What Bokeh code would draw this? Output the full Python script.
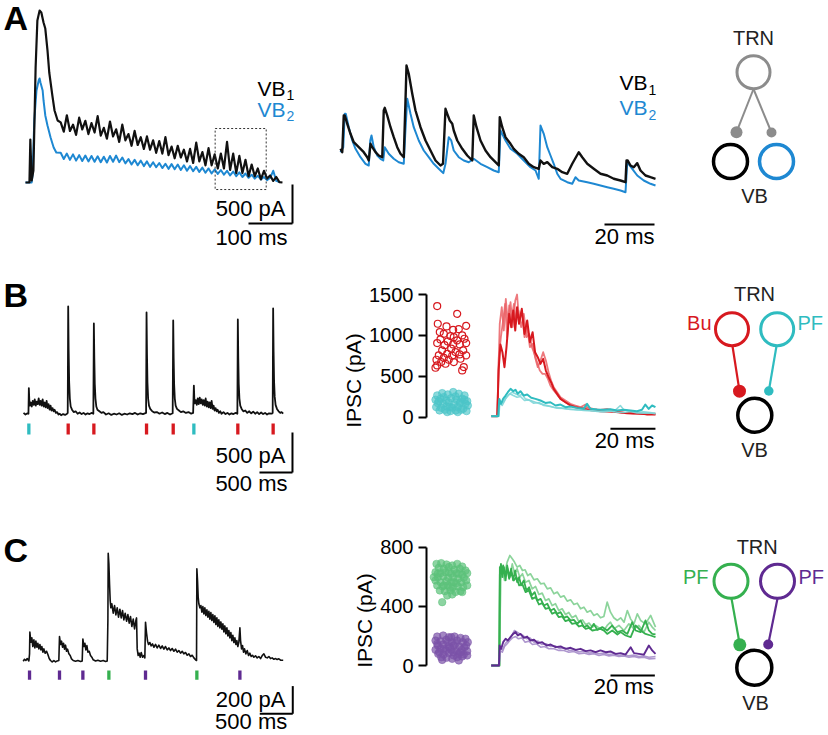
from bokeh.plotting import figure
from bokeh.layouts import column, row
from bokeh.models import Range1d, FixedTicker, Title
from bokeh.core.properties import value
from bokeh.embed import file_html
from bokeh.resources import INLINE

FONT = "Liberation Sans"

# ---------------- DATA ----------------
# Panel A left: full IPSC train (ms, pA)
a1_black = [(0,0),(9,0),(11,550),(14,26),(18,154),(23,1472),(27,2074),(32,2200),(36,2176),(41,2048),(45,1971),(50,1690),(54,1408),(61,1114),(66,922),(73,794),
 (80,770),(87,650),(94,860),(101,660),(108,740),(115,610),(122,830),(129,680),(136,790),(143,620),(150,760),(157,640),(164,850),(171,600),(178,700),(185,560),
 (192,780),(199,590),(206,680),(213,520),(220,740),(227,540),(234,620),(241,470),(248,660),(255,480),(262,580),(269,430),(276,590),(283,420),(290,540),(297,380),
 (304,530),(311,370),(318,580),(325,350),(332,460),(339,310),(346,470),(353,320),(360,420),(367,270),(374,430),(381,250),(388,510),(395,270),(402,390),(409,220),
 (416,440),(423,220),(430,360),(437,180),(444,370),(451,180),(458,520),(465,160),(472,370),(479,120),(486,340),(493,120),(500,290),(507,80),(514,230),(521,80),
 (528,180),(535,40),(542,150),(549,50),(556,90),(563,20),(570,70),(577,5),(584,0)]
a1_blue = [(0,0),(14,0),(16,90),(20,794),(25,1178),(30,1306),(32,1331),(34,1280),(39,1178),(41,1050),(45,858),(50,730),(57,576),(64,448),(70,384),
 (80,380),(87,300),(94,370),(101,290),(108,360),(115,280),(122,350),(129,275),(136,345),(143,270),(150,340),(157,265),(164,335),(171,260),(178,330),(185,255),
 (192,340),(199,265),(206,345),(213,260),(220,320),(227,245),(234,300),(241,230),(248,290),(255,220),(262,280),(269,210),(276,270),(283,200),(290,260),(297,195),
 (304,250),(311,185),(318,240),(325,175),(332,235),(339,170),(346,230),(353,160),(360,220),(367,150),(374,210),(381,145),(388,200),(395,135),(402,190),(409,125),
 (416,180),(423,115),(430,170),(437,110),(444,160),(451,100),(458,150),(465,90),(472,140),(479,80),(486,130),(493,70),(500,115),(507,60),(514,100),(521,50),
 (528,85),(535,40),(542,70),(549,30),(556,60),(563,150),(570,20),(577,5)]

# Panel A right: expanded segment (ms, pA)
a2_black_t = [0,0.7,1.3,1.7,2.7,4,5.3,7.3,9.3,10.7,11.3,12,12.7,14,15.3,16.7,17.3,17.7,18.7,20,21.3,22.7,24,25.3,26,26.4,27.3,28.7,30,32,
 34,36,38,40,41,42,42.7,43.7,44.7,45.3,46.7,48.7,50.7,52.7,53.3,54.4,56,58,60,62,63.3,63.7,64.7,66,68,69.3,71.3,73.3,75.3,77.3,
 79.3,80,81.3,82.7,84.7,86.7,88.7,90.7,92.7,95.3,96.7,98.7,101.3,104,106.7,109.3,112,114,114.4,114.9,116,117.3,118.7,120,122,124,126]
a2_black_i = [299,277,512,512,459,395,341,309,277,245,224,331,309,277,256,245,544,561,512,437,373,309,267,245,608,832,779,651,544,437,
 352,288,224,192,203,555,523,480,459,416,352,299,256,224,512,437,352,288,245,213,192,501,437,373,331,299,267,245,203,181,
 171,224,203,213,181,171,149,139,203,277,245,203,171,139,128,107,96,85,224,224,192,181,207,160,128,117,107]
a2_blue_t = [0,1.1,1.7,2.1,3.3,4.7,6,8,10,11.3,11.9,12.4,13.3,14.7,16,17.1,17.7,19.3,21.3,23.3,25.3,25.9,26.7,28,29.3,31.3,33.3,35.3,37.3,39.3,
 41.1,42,43.3,44.3,45.3,47.3,49.3,51.3,53.3,56,58.7,61.3,63.3,64,66,68,70.7,73.3,76,78,79.3,80,81.3,82.7,84,85.3,86.7,88,90.7,92.7,
 94,95.3,98.7,101.3,104,106.7,109.3,112,114,114.7,116.7,118.7,121.3,124,126]
a2_blue_i = [277,309,523,523,437,352,299,245,203,192,352,384,309,256,235,224,309,267,235,213,203,395,619,523,437,352,288,245,203,171,
 143,203,373,352,288,245,224,213,235,203,181,160,149,416,352,299,267,224,181,160,107,448,395,309,256,203,139,107,85,75,
 117,96,85,75,64,53,43,32,21,213,171,128,96,75,64]

# Panel B left: train with Bu / PF stimulation (ms, pA)
b1_trace = [(0,20),(30,0),(60,15),(75,10),(81,330),(88,180),(95,110),(110,150),(125,100),(140,170),(155,120),(170,190),(185,110),(200,160),(215,130),
 (230,200),(245,120),(260,170),(275,110),(290,190),(305,100),(320,150),(335,90),(350,170),(365,80),(380,130),(395,60),(410,110),(425,50),(440,80),
 (455,40),(470,60),(490,20),(510,30),(530,0),(550,10),(570,-10),(600,5),(630,-5),(660,10),(670,20),(677,1350),(684,800),(692,400),(702,200),
 (715,100),(735,60),(760,30),(790,40),(820,10),(850,25),(880,5),(910,20),(940,0),(970,15),(1000,5),(1030,20),(1058,10),(1066,1138),(1073,700),
 (1080,380),(1090,200),(1103,100),(1120,60),(1150,40),(1180,20),(1210,30),(1250,0),(1290,15),(1330,-5),(1370,10),(1410,0),(1450,15),(1490,-5),
 (1530,10),(1570,0),(1610,15),(1650,5),(1690,20),(1730,0),(1770,15),(1810,5),(1857,20),(1864,1275),(1871,750),(1878,400),(1888,200),(1901,110),
 (1920,70),(1950,40),(1980,25),(2020,30),(2060,10),(2100,25),(2140,5),(2180,20),(2220,0),(2260,15),(2268,1175),(2275,700),(2282,380),(2292,200),
 (2305,110),(2325,70),(2355,50),(2385,30),(2420,40),(2460,20),(2500,30),(2540,10),(2570,20),(2581,362),(2588,200),(2596,140),(2610,180),(2625,120),
 (2640,200),(2655,130),(2670,210),(2685,140),(2700,190),(2715,120),(2730,180),(2745,110),(2760,200),(2775,100),(2790,160),(2805,90),(2820,150),
 (2835,80),(2850,170),(2865,70),(2880,110),(2895,50),(2910,80),(2925,40),(2940,60),(2960,20),(2980,40),(3000,10),(3030,30),(3060,5),(3090,20),
 (3120,0),(3150,15),(3180,5),(3210,20),(3240,10),(3247,1188),(3254,700),(3261,380),(3271,200),(3284,110),(3305,70),(3330,40),(3360,50),(3390,20),
 (3420,40),(3450,15),(3480,35),(3510,10),(3540,30),(3570,5),(3600,25),(3630,5),(3660,20),(3690,0),(3720,15),(3760,10),(3775,20),(3782,1325),
 (3789,780),(3796,420),(3806,220),(3819,120),(3840,70),(3865,40),(3890,20),(3910,30),(3934,10)]
b1_stim_t = [81, 677, 1066, 1864, 2268, 2581, 3247, 3782]
b1_stim_kind = ["PF", "Bu", "Bu", "Bu", "Bu", "PF", "Bu", "Bu"]

# Panel B scatter: IPSC amplitudes (jitter, pA)
bu_amp_x = [10.7,30.7,11.3,20,39.7,26.7,32.3,13.3,17.3,24,35.7,27.3,14,30.7,21.3,38,10.7,18,26.7,33.3,39.7,24.7,15.7,36.7,29,20.7,33,12.3,25.7,39.7,17.3,10,22.3,34,14.7,27.3,10.7,19,37.3,35.7,9]
bu_amp = [1360,1266,1144,1111,1119,1070,1078,1042,1021,993,1001,980,952,940,927,960,907,882,891,891,907,838,817,817,797,776,768,756,752,756,727,703,703,715,674,674,633,654,613,572,605]
pf_amp_x = [10.7,15.7,21.3,26.7,32.3,38,9,14,19.7,24.7,30,35.7,40.7,11.3,16.7,22.3,27.3,33.3,39,9.7,14.7,20,25.7,31.3,36.7,41.3,13,18.3,24,29.3,34.7,40,17.3,29,34,12.3,23.3,38,20.7,31.3]
pf_amp = [266,294,278,307,286,266,213,225,205,233,213,225,196,172,164,180,156,172,164,123,115,131,115,123,103,143,82,90,74,82,90,74,245,254,184,196,123,213,62,62]

# Panel B right: overlaid IPSCs (ms, pA)
bu_tr1 = [(0,0),(2.7,0),(3.3,559),(4.1,878),(5.0,784),(5.9,600),(6.8,845),(8.0,1253),(8.9,1090),(9.8,1294),(10.7,1049),(11.5,1335),(12.4,1131),(13.6,1315),(14.8,1008),(16.0,1172),(17.2,906),(18.4,1029),(19.5,784),(20.7,723),(21.9,641),(23.1,702),(24.3,559),(25.5,478),(26.6,416),(27.8,335),(29.3,274),(30.8,212),(33.0,171),(35.2,131),(37.4,110),(39.7,98),(42.6,78),(45.6,69),(48.5,61),(51.5,57),(54.5,53),(57.4,45),(60.4,37),(63.3,37),(66.3,29),(69.3,24),(73.0,29)]
bu_tr2 = [(0,0),(2.7,0),(3.1,437),(3.8,1131),(4.7,1335),(5.6,1049),(6.5,1437),(7.4,1131),(8.6,1396),(9.5,1090),(10.7,1417),(11.5,1490),(12.4,1172),(13.6,1294),(14.8,968),(16.0,1090),(17.2,845),(18.4,886),(19.5,723),(20.7,600),(21.9,682),(23.1,784),(24.3,682),(25.5,539),(26.6,437),(27.8,355),(29.3,294),(30.8,233),(33.0,192),(35.2,151),(37.4,131),(39.7,110),(41.9,143),(42.6,110),(45.6,86),(48.5,78),(51.5,90),(54.5,69),(57.4,49),(60.4,37),(63.3,29),(66.3,37),(69.3,20),(73.0,20)]
bu_tr3 = [(0,0),(2.8,0),(3.4,723),(4.3,968),(5.3,1172),(6.2,1376),(7.1,968),(8.0,1356),(8.9,1172),(10.1,1376),(11.0,1131),(12.1,1294),(13.3,1090),(14.5,1253),(15.7,968),(16.9,1008),(18.1,845),(19.2,764),(20.4,661),(21.6,559),(22.8,519),(24.0,519),(25.2,457),(26.3,376),(27.8,314),(29.6,253),(31.4,200),(33.7,159),(36.1,131),(38.5,110),(41.1,102),(44.1,90),(47.1,78),(50.0,69),(53.0,61),(55.9,53),(58.9,41),(61.9,37),(64.8,33),(67.8,29),(70.7,20),(73.0,16)]
pf_tr1 = [(0,0),(3.1,0),(3.6,212),(4.4,151),(5.3,212),(6.4,253),(7.4,294),(8.6,335),(9.8,306),(10.8,323),(11.8,274),(13.0,306),(14.5,253),(16.0,265),(17.8,225),(19.7,212),(21.9,192),(24.1,163),(26.3,171),(28.6,131),(30.8,143),(33.0,110),(35.2,118),(38.2,102),(41.1,90),(42.6,151),(44.1,90),(47.1,82),(50.0,78),(53.0,86),(55.9,69),(58.9,78),(61.9,69),(64.8,61),(67.0,78),(68.5,143),(70.0,90),(71.5,131),(73.0,110)]
pf_tr2 = [(0,0),(3.3,0),(3.7,171),(4.9,131),(6.4,212),(7.8,265),(9.3,294),(10.8,274),(12.3,253),(13.8,265),(15.2,212),(17.5,192),(19.7,171),(21.9,151),(24.9,131),(27.8,110),(30.8,102),(33.7,90),(36.7,86),(39.7,78),(42.6,69),(45.6,65),(48.5,61),(51.5,69),(54.5,57),(57.4,131),(58.9,78),(61.9,61),(64.8,49),(67.8,53),(70.7,45),(73.0,37)]
pf_tr3 = [(0,0),(3.4,0),(3.8,151),(5.3,171),(6.8,233),(8.3,274),(9.8,253),(11.5,233),(13.0,241),(14.8,192),(16.7,200),(18.9,159),(21.2,168),(23.4,131),(26.3,118),(29.3,98),(32.3,94),(35.2,82),(38.2,78),(41.1,69),(44.1,69),(47.1,57),(50.0,53),(53.0,65),(55.9,49),(58.9,45),(61.9,57),(64.8,41),(67.8,37),(70.7,41),(73.0,29)]

# Panel C left (ms, pA)
c1_trace = [(0,0),(20,14),(40,5),(61,19),(86,2),(96,53),(101,210),(116,137),(131,169),(146,106),(162,154),(177,96),(192,145),(207,101),(222,130),(237,89),
 (253,121),(268,82),(283,106),(298,65),(313,89),(333,58),(354,72),(374,48),(394,19),(414,5),(439,-5),(465,5),(490,-5),(515,2),(540,5),(550,178),(566,121),
 (581,145),(596,101),(611,130),(626,87),(641,116),(657,72),(672,87),(692,53),(712,41),(732,17),(758,5),(793,0),(828,5),(869,-2),(894,2),(904,161),(919,106),
 (934,130),(949,82),(965,113),(980,65),(1000,72),(1020,41),(1040,29),(1061,10),(1096,2),(1131,7),(1172,0),(1212,5),(1247,-2),(1273,2),(1283,294),(1288,781),
 (1298,704),(1308,559),(1318,439),(1328,386),(1343,415),(1364,347),(1384,402),(1404,335),(1424,386),(1444,318),(1465,376),(1485,313),(1505,366),(1525,299),
 (1545,347),(1566,289),(1586,337),(1606,275),(1626,323),(1646,251),(1667,304),(1687,234),(1707,294),(1717,313),(1727,89),(1742,41),(1757,58),(1773,29),
 (1788,63),(1808,29),(1828,41),(1843,24),(1853,282),(1869,202),(1884,145),(1899,121),(1919,135),(1939,111),(1959,125),(1980,101),(2005,121),(2030,96),
 (2055,116),(2081,92),(2106,111),(2131,87),(2156,106),(2182,82),(2207,96),(2232,77),(2257,92),(2283,72),(2308,87),(2333,65),(2358,77),(2384,58),(2409,72),
 (2434,53),(2459,63),(2485,43),(2510,53),(2535,34),(2560,43),(2586,24),(2611,10),(2626,5),(2631,668),(2641,583),(2651,463),(2661,415),(2677,386),(2692,402),
 (2707,354),(2722,395),(2737,342),(2752,386),(2767,330),(2783,371),(2798,318),(2813,361),(2828,304),(2843,352),(2858,294),(2873,337),(2889,280),(2904,328),
 (2919,265),(2934,313),(2949,251),(2964,299),(2980,241),(2995,284),(3010,231),(3025,270),(3040,212),(3055,255),(3070,198),(3086,241),(3101,183),(3116,222),
 (3131,169),(3146,207),(3161,149),(3176,188),(3192,135),(3207,169),(3222,121),(3237,149),(3252,106),(3267,137),(3283,241),(3293,149),(3308,89),(3323,113),
 (3338,65),(3353,89),(3373,53),(3394,77),(3414,41),(3434,58),(3454,34),(3474,43),(3495,29),(3520,39),(3545,24),(3570,34),(3596,19),(3621,41),(3646,53),
 (3671,29),(3697,24),(3722,34),(3747,19),(3772,24),(3798,14),(3823,19),(3848,12),(3873,17),(3899,7),(3939,7)]
c1_stim_t = [96, 550, 904, 1298, 1853, 2631, 3283]
c1_stim_kind = ["PF2", "PF2", "PF2", "PF1", "PF2", "PF1", "PF2"]

# Panel C scatter (jitter, pA)
g_amp_x = [10,14.7,20,25.7,30.7,35.7,12.3,17.3,22.3,28,33.3,39,9,14,19,24.7,30,35.7,40.7,11.3,16.7,21.7,26.7,31.7,37.3,9,14,19.7,24.7,29.7,34.7,39.7,10.7,16,21.3,26.3,31.3,36.7,13.3,18.3,24,29,34,20.7,25.7,15.7,7.3,40.7,11.3,27.3,32.3,22.3,17.3,35.7,23.3]
g_amp = [688,693,684,677,688,670,661,655,666,648,655,643,632,625,632,621,625,616,625,598,603,594,598,587,594,576,564,571,564,557,564,576,542,535,542,530,535,530,508,503,508,497,503,474,481,429,598,542,621,564,621,632,542,497,530]
p_amp_x = [10.7,16.7,22.3,28,34,39,9,14,19.7,25.3,30.7,36.3,41.3,11.3,16.7,22,27.3,32.7,38,9,14,19.3,24.7,30,35.3,40.7,11.7,17,22.3,27.3,32.3,37.3,14.7,20,25.7,30.7,35.7,17.3,29,34,23.3,12.7,39.7,26.7,21.3,10.7,15.7,32.3,40.7,24.7]
p_amp = [196,203,192,196,187,181,169,165,174,158,169,158,158,135,142,129,135,129,124,106,113,102,106,97,106,97,79,74,84,68,79,74,56,52,45,56,61,113,147,90,120,90,135,90,158,147,38,34,68,192]

# Panel C right (ms, pA)
g_tr1 = [(0,0),(3.6,0),(3.9,621),(4.4,688),(5.0,598),(5.7,666),(6.5,576),(7.2,677),(8.1,598),(9.0,655),(9.9,576),(10.8,643),(11.7,564),(12.6,598),(13.5,542),(14.7,576),(15.9,508),(17.1,530),(18.3,474),(19.6,497),(20.8,440),(22.3,451),(23.8,406),(25.3,418),(26.8,372),(28.3,384),(29.8,350),(31.3,361),(32.8,323),(34.3,332),(35.8,305),(37.3,309),(38.8,282),(40.3,305),(41.8,260),(43.3,271),(44.8,248),(46.3,282),(47.8,241),(50.1,260),(52.3,237),(54.6,271),(56.9,226),(59.1,237),(61.4,214),(63.6,293),(65.1,237),(67.4,226),(69.6,305),(71.1,237),(72.6,214),(74.1,210)]
g_tr2 = [(0,0),(3.8,0),(4.2,576),(5.0,666),(6.0,621),(7.2,700),(8.4,745),(9.5,722),(10.5,700),(11.7,666),(12.9,677),(14.1,643),(15.3,648),(16.5,609),(17.7,621),(19.3,580),(20.8,587),(22.3,553),(23.8,557),(25.3,519),(26.8,526),(28.3,485),(29.8,497),(31.3,463),(32.8,472),(34.3,436),(35.8,445),(37.3,413),(38.8,422),(40.3,384),(41.8,395),(43.3,361),(44.8,372),(46.3,339),(47.8,350),(49.3,323),(50.8,332),(52.3,429),(53.8,361),(55.3,323),(56.9,305),(58.4,323),(59.9,293),(61.4,372),(62.9,314),(64.4,282),(65.9,350),(67.4,305),(69.6,282),(71.9,339),(74.1,260)]
g_tr3 = [(0,0),(3.8,0),(4.2,598),(5.1,643),(6.0,576),(7.2,666),(8.4,598),(9.5,688),(10.5,621),(11.7,655),(12.9,598),(14.1,621),(15.5,564),(17.0,576),(18.5,519),(20.0,535),(21.5,481),(23.0,490),(24.5,440),(26.0,451),(27.5,406),(29.0,418),(30.5,372),(32.0,384),(33.5,345),(35.0,359),(36.5,323),(38.1,339),(39.6,293),(41.1,309),(42.6,278),(44.1,287),(45.6,260),(47.1,271),(48.6,255),(50.8,237),(52.3,271),(53.8,293),(55.3,248),(57.6,271),(59.9,237),(62.1,282),(64.4,248),(66.6,271),(68.9,226),(71.1,293),(72.6,260),(74.1,237)]
g_tr4 = [(0,0),(3.6,0),(3.9,666),(4.7,621),(5.4,677),(6.3,609),(7.2,661),(8.1,587),(9.0,632),(10.2,576),(11.4,598),(12.6,542),(14.0,553),(15.5,497),(17.0,508),(18.5,451),(20.0,463),(21.5,413),(23.0,422),(24.5,384),(26.0,390),(27.5,350),(29.0,361),(30.5,327),(32.0,332),(33.5,300),(35.0,309),(36.5,282),(38.1,287),(39.6,264),(41.1,271),(42.6,248),(44.1,255),(45.6,237),(47.1,241),(49.3,248),(50.8,237),(52.3,214),(54.6,237),(56.9,210),(58.4,226),(60.6,203),(62.9,192),(65.1,271),(67.4,237),(69.6,214),(71.9,203),(74.1,192)]
p_tr1 = [(0,0),(3.5,0),(3.8,135),(4.5,113),(5.4,158),(6.5,181),(7.5,169),(8.7,192),(9.9,214),(11.0,226),(12.0,203),(13.2,214),(14.7,187),(16.2,196),(17.7,169),(19.3,174),(21.1,151),(23.0,158),(25.0,135),(26.8,142),(29.0,124),(31.3,129),(33.5,113),(35.8,120),(38.1,106),(40.3,113),(42.6,97),(44.8,102),(47.1,90),(49.3,102),(51.6,90),(53.8,95),(56.1,79),(58.4,84),(60.6,74),(62.9,124),(64.4,84),(66.6,79),(68.9,74),(71.1,135),(72.6,102),(74.1,79)]
p_tr2 = [(0,0),(3.6,0),(3.9,102),(5.0,90),(6.0,129),(7.2,147),(8.4,169),(9.6,187),(11.0,196),(12.3,181),(13.8,187),(15.3,158),(17.0,165),(18.6,142),(20.5,147),(22.3,124),(24.1,129),(26.0,113),(28.3,113),(30.5,102),(32.8,102),(35.0,90),(37.3,95),(39.6,79),(41.8,84),(44.1,74),(46.3,79),(48.6,68),(50.8,74),(53.1,65),(55.3,70),(57.6,61),(59.9,65),(62.1,56),(64.4,61),(66.6,52),(68.9,56),(71.1,45),(74.1,47)]
p_tr3 = [(0,0),(3.6,0),(4.1,113),(5.1,106),(6.3,147),(7.5,169),(9.0,196),(10.5,237),(11.7,226),(12.9,214),(14.4,203),(15.9,181),(17.4,187),(19.3,158),(21.1,165),(22.9,142),(24.7,147),(26.8,129),(28.9,133),(31.0,113),(33.1,120),(35.2,102),(37.3,106),(39.6,92),(41.8,97),(44.1,84),(46.3,88),(48.6,79),(50.8,84),(53.1,74),(55.3,79),(57.6,68),(59.9,74),(62.1,65),(64.4,70),(66.6,61),(68.9,65),(71.1,56),(74.1,61)]

# ---------------- STYLE ----------------
BLACK = "#111111"
BLUE = "#1e88d2"
GRAY = "#8c8c8c"
RED = "#d7191f"
RED_L = "#ea6266"
CYAN = "#2fbcc0"
CYAN_L = "#7fd6d8"
GREEN = "#35b04f"
GREEN_L = "#80cf90"
PURPLE = "#5f2a91"
PURPLE_L = "#a58cc9"
BASELINE_FIX = 0.36   # Bokeh draws 'alphabetic' text a little low; lift by this fraction of the font size


def base(w, h, xr, yr, yloc=None, **kw):
    opts = dict(min_border_left=0, min_border_right=0, min_border_top=0, min_border_bottom=0)
    opts.update(kw)
    p = figure(width=w, height=h, x_range=Range1d(*xr), y_range=Range1d(*yr),
               output_backend="svg", toolbar_location=None,
               x_axis_location=None, y_axis_location=yloc, **opts)
    p.grid.visible = False
    p.outline_line_color = None
    p.background_fill_color = "white"
    p.border_fill_color = "white"
    return p


def lift(p, y, size):
    per_px = (p.y_range.end - p.y_range.start) / p.height
    return y + BASELINE_FIX * size * per_px


def txt(p, x, y, s, size, color="black", align="left", bold=False, x_offset=0):
    p.text(x=[x], y=[lift(p, y, size)], text=[s], text_font=value(FONT), text_font_size=value(f"{size}px"),
           text_color=color, text_align=align, text_baseline="alphabetic",
           text_font_style="bold" if bold else "normal", x_offset=x_offset)


def line_pairs(p, pairs, color, width, alpha=1.0):
    p.line([a for a, b in pairs], [b for a, b in pairs], line_color=color, line_width=width,
           line_alpha=alpha, line_join="round")


def scalebar(p, x_corner, y_corner, dx, dy):
    if dy:
        p.segment(x0=[x_corner], y0=[y_corner], x1=[x_corner], y1=[y_corner + dy], line_color="black", line_width=2)
    p.segment(x0=[x_corner - dx], y0=[y_corner], x1=[x_corner], y1=[y_corner], line_color="black", line_width=2)


def vb_label(p, x, y, ysub, sub, color):
    txt(p, x, y, "VB", 21, color, "right")
    txt(p, x, ysub, sub, 14, color, "left", x_offset=1)


def amp_axis(p, ticks, top, label_shift):
    ax = p.yaxis[0]
    ax.ticker = FixedTicker(ticks=ticks)
    ax.bounds = (0, top)
    ax.axis_line_width = 2
    ax.axis_line_color = "black"
    ax.major_tick_line_width = 2
    ax.major_tick_line_color = "black"
    ax.major_tick_out = 8
    ax.major_tick_in = 0
    ax.minor_tick_line_color = None
    ax.major_label_text_font = FONT
    ax.major_label_text_font_size = "20px"
    ax.major_label_text_color = "black"
    ax.major_label_standoff = 5
    p.add_layout(Title(text="IPSC (pA)", align="center", offset=label_shift, text_font=FONT,
                       text_font_size="21px", text_font_style="normal", text_color="black",
                       standoff=4), "left")


# ---------------- ROW A (page y 0..255) ----------------
a1 = base(310, 255, (-56.8, 647.7), (-934.4, 2329.6))
line_pairs(a1, a1_blue, BLUE, 2)
line_pairs(a1, a1_black, BLACK, 2.2)
a1.quad(left=[431], right=[547], bottom=[-90], top=[691], fill_color=None, line_color="#333333",
        line_width=1, line_dash="2 2")
scalebar(a1, 606.8, -525, 100, 500)
txt(a1, 590.9, -435, "500 pA", 22, align="right")
txt(a1, 595.5, -806, "100 ms", 22, align="right")
vb_label(a1, 590.9, 1101, 1050, "1", "black")
vb_label(a1, 590.9, 832, 781, "2", BLUE)
txt(a1, -50, 1946, "A", 34, bold=True)

a2 = base(360, 255, (-12, 132), (-384, 1248))
a2.line(a2_blue_t, a2_blue_i, line_color=BLUE, line_width=2, line_join="round")
a2.line(a2_black_t, a2_black_i, line_color=BLACK, line_width=2.4, line_join="round")
scalebar(a2, 125.6, -185.6, 20, 0)
txt(a2, 125.6, -313.6, "20 ms", 22, align="right")
vb_label(a2, 122.8, 672, 646, "1", "black")
vb_label(a2, 122.8, 512, 486, "2", BLUE)

a3 = base(158, 255, (670, 828), (255, 0))
txt(a3, 753, 45, "TRN", 20, "#222222", "center")
a3.segment(x0=[753, 753], y0=[88.5, 88.5], x1=[736, 771], y1=[131.7, 132], line_color=GRAY, line_width=2)
a3.scatter(x=[753], y=[71.7], size=33, line_color=GRAY, line_width=3, fill_color="white")
a3.scatter(x=[736, 771], y=[131.7, 132], size=[12, 10], line_color=None, fill_color=GRAY)
a3.scatter(x=[730, 776], y=[161, 161], size=34, line_color=["black", BLUE], line_width=3.5, fill_color="white")
txt(a3, 754, 203, "VB", 20, "#222222", "center")

# ---------------- ROW B (page y 255..505) ----------------
b1 = base(310, 250, (-348.5, 4348), (-1137.5, 1987.5))
line_pairs(b1, b1_trace, BLACK, 1.8)
b1.segment(x0=b1_stim_t, x1=b1_stim_t, y0=[-112.5] * len(b1_stim_t), y1=[-250] * len(b1_stim_t),
           line_color=[CYAN if k == "PF" else RED for k in b1_stim_kind], line_width=3.3)
scalebar(b1, 4075, -725, 500, 500)
txt(b1, 3969, -612, "500 pA", 22, align="right")
txt(b1, 4000, -962.5, "500 ms", 22, align="right")
txt(b1, -303, 1337, "B", 34, bold=True)

b2 = base(166, 250, (0, 50), (-1082.6, 1980), yloc="left", min_border_left=116)
amp_axis(b2, [0, 500, 1000, 1500], 1500, 43)
b2.scatter(x=pf_amp_x, y=pf_amp, size=7.5, fill_color="#4cc4c8", fill_alpha=0.65, line_color="#4cc4c8", line_alpha=0.6)
b2.scatter(x=bu_amp_x, y=bu_amp, size=7, fill_color=None, line_color=RED, line_width=1.2)

b3 = base(194, 250, (-6.53, 79.69), (-1093.5, 1967.8))
for tr in (bu_tr2, bu_tr3):
    line_pairs(b3, tr, RED_L, 1.8, 0.85)
line_pairs(b3, bu_tr1, RED, 2)
for tr in (pf_tr2, pf_tr3):
    line_pairs(b3, tr, CYAN_L, 1.6, 0.9)
line_pairs(b3, pf_tr1, CYAN, 2)
scalebar(b3, 73.0, -154, 20, 0)
txt(b3, 72.6, -395.5, "20 ms", 22, align="right")

b4 = base(158, 250, (670, 828), (505, 255))
txt(b4, 754, 300.7, "TRN", 20, "#222222", "center")
b4.segment(x0=[732, 776], y0=[345.5, 345.5], x1=[739, 768.3], y1=[390.7, 390.5],
           line_color=[RED, CYAN], line_width=2.2)
b4.scatter(x=[731.5, 776.7], y=[328.7, 328.7], size=33, line_color=[RED, CYAN], line_width=3, fill_color="white")
b4.scatter(x=[739, 768.3], y=[390.7, 390.5], size=[13, 9.5], line_color=None, fill_color=[RED, CYAN])
b4.scatter(x=[754.3], y=[414.7], size=34, line_color="black", line_width=3.5, fill_color="white")
txt(b4, 711, 330, "Bu", 20, RED, "right")
txt(b4, 797, 330, "PF", 20, CYAN, "left")
txt(b4, 754, 456.7, "VB", 20, "#222222", "center")

# ---------------- ROW C (page y 505..735) ----------------
c1 = base(310, 230, (-343.9, 4352.6), (-537.2, 1125.7))
line_pairs(c1, c1_trace, BLACK, 1.6)
c1.segment(x0=c1_stim_t, x1=c1_stim_t, y0=[-67] * len(c1_stim_t), y1=[-134] * len(c1_stim_t),
           line_color=[GREEN if k == "PF1" else PURPLE for k in c1_stim_kind], line_width=3.3)
scalebar(c1, 4084, -380, 500, 200)
txt(c1, 3974, -333, "200 pA", 22, align="right")
txt(c1, 4000, -490, "500 ms", 22, align="right")
txt(c1, -298.5, 716, "C", 34, bold=True)

c2 = base(166, 230, (0, 50), (-473.9, 1083.2), yloc="left", min_border_left=116)
amp_axis(c2, [0, 400, 800], 800, 12)
c2.scatter(x=g_amp_x, y=g_amp, size=7.5, fill_color="#5cc27a", fill_alpha=0.7, line_color="#5cc27a", line_alpha=0.5)
c2.scatter(x=p_amp_x, y=p_amp, size=7.5, fill_color="#7b52a8", fill_alpha=0.7, line_color="#7b52a8", line_alpha=0.5)

c3 = base(194, 230, (-6.63, 80.86), (-473.9, 1083.2))
for tr in (g_tr2, g_tr3):
    line_pairs(c3, tr, GREEN_L, 1.7, 0.9)
for tr in (g_tr1, g_tr4):
    line_pairs(c3, tr, GREEN, 1.8)
for tr in (p_tr2, p_tr3):
    line_pairs(c3, tr, PURPLE_L, 1.6, 0.9)
line_pairs(c3, p_tr1, PURPLE, 1.9)
scalebar(c3, 73.8, -67.7, 20, 0)
txt(c3, 73.3, -196, "20 ms", 22, align="right")

c4 = base(158, 230, (670, 828), (735, 505))
txt(c4, 756.7, 553.3, "TRN", 20, "#222222", "center")
c4.segment(x0=[731, 777], y0=[598, 598], x1=[739.3, 767.7], y1=[644.3, 644],
           line_color=[GREEN, PURPLE], line_width=2.2)
c4.scatter(x=[730.5, 777], y=[580.8, 580.8], size=34, line_color=[GREEN, PURPLE], line_width=3, fill_color="white")
c4.scatter(x=[739.3, 767.7], y=[644.3, 644], size=[13, 10], line_color=None, fill_color=[GREEN, PURPLE])
c4.scatter(x=[753.8], y=[667.2], size=35, line_color="black", line_width=3.5, fill_color="white")
txt(c4, 708, 583.3, "PF", 20, GREEN, "right")
txt(c4, 798, 583.3, "PF", 20, PURPLE, "left")
txt(c4, 755, 710, "VB", 20, "#222222", "center")

layout = column(row(a1, a2, a3, spacing=0), row(b1, b2, b3, b4, spacing=0),
                row(c1, c2, c3, c4, spacing=0), spacing=0)

open("out.html", "w").write(file_html(layout, INLINE))
